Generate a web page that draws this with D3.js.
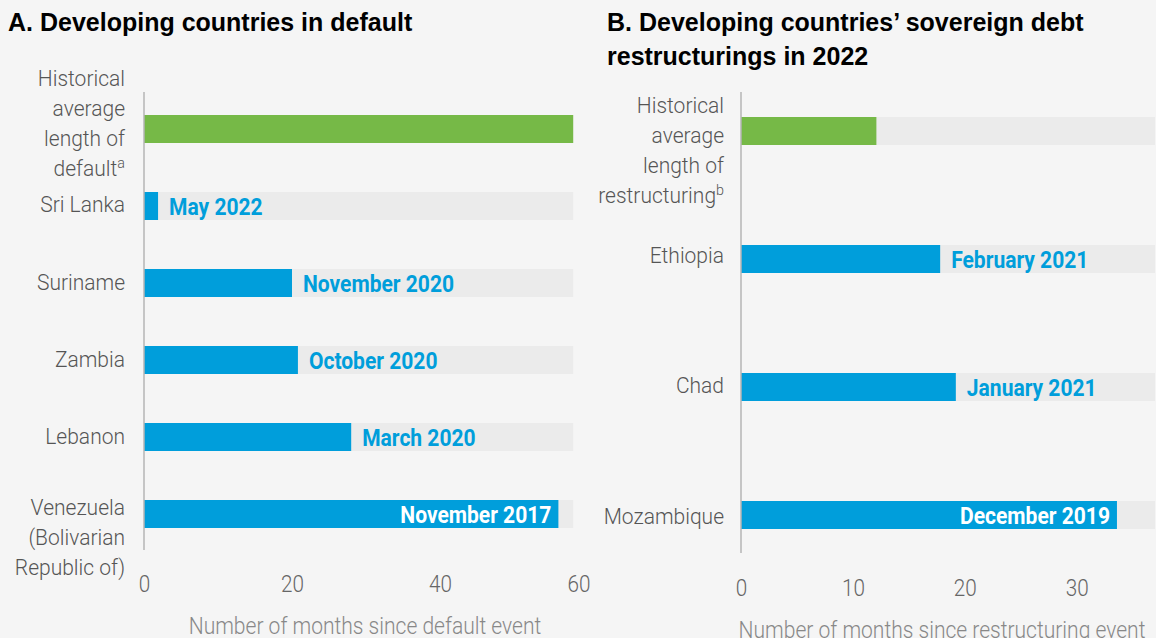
<!DOCTYPE html>
<html>
<head>
<meta charset="utf-8">
<script src="https://cdn.jsdelivr.net/npm/d3@7"></script>
<style>
    body { margin: 0; background: #f5f5f5; }
    svg { display: block; }
</style>
</head>
<body>
<div id="chart"></div>
<script>
// Panel A: countries in default
var defaultLabels = [["Historical", "average", "length of", "default"], ["Sri Lanka"], ["Suriname"], ["Zambia"], ["Lebanon"], ["Venezuela", "(Bolivarian", "Republic of)"]];
var defaultNotes = ["a", "", "", "", "", ""];
var defaultMonths = [58, 1.9, 20, 20.8, 28, 56];
var defaultDates = ["", "May 2022", "November 2020", "October 2020", "March 2020", "November 2017"];
var defaultTicks = [0, 20, 40, 60];
var defaultTrack = 58;

// Panel B: restructurings in 2022
var restructLabels = [["Historical", "average", "length of", "restructuring"], ["Ethiopia"], ["Chad"], ["Mozambique"]];
var restructNotes = ["b", "", "", ""];
var restructMonths = [12.1, 17.8, 19.2, 33.6];
var restructDates = ["", "February 2021", "January 2021", "December 2019"];
var restructTicks = [0, 10, 20, 30];
var restructTrack = 37;

var width = 1156, height = 638;
var blue = "#009edb", green = "#76b947", track = "#ebebeb";
// squeeze Roboto a bit, no condensed face installed
var narrowLight = 0.955, narrowBold = 0.915, narrowTick = 0.9;

var svg = d3.select("#chart")
    .append("svg")
    .attr("width", width)
    .attr("height", height);

svg.append("rect")
    .attr("width", width)
    .attr("height", height)
    .attr("fill", "#f5f5f5");

function drawPanel(cfg) {
    var g = svg.append("g");

    var x = d3.scaleLinear()
        .domain([0, cfg.max])
        .range([cfg.x0, cfg.x1]);

    var y = d3.scalePoint()
        .domain(d3.range(cfg.labels.length))
        .range([cfg.yTop, cfg.yBot]);

    var barH = 28;

    // title
    cfg.title.forEach((t, i) => {
        g.append("text")
            .attr("x", cfg.titleX)
            .attr("y", 31 + i * 34)
            .text(t)
            .style("font-family", "'Liberation Sans', Arial, sans-serif")
            .style("font-weight", "bold")
            .style("font-size", "25px")
            .style("fill", "#000");
    });

    // grey tracks
    g.selectAll("rect.track")
        .data(cfg.months)
        .enter()
        .append("rect")
        .attr("class", "track")
        .attr("x", x(0))
        .attr("y", (d, i) => y(i) - barH / 2)
        .attr("width", x(cfg.track) - x(0))
        .attr("height", barH)
        .attr("fill", track);

    // value bars
    g.selectAll("rect.bar")
        .data(cfg.months)
        .enter()
        .append("rect")
        .attr("class", "bar")
        .attr("x", x(0))
        .attr("y", (d, i) => y(i) - barH / 2)
        .attr("width", d => x(d) - x(0))
        .attr("height", barH)
        .attr("fill", (d, i) => i === 0 ? green : blue);

    // axis line
    g.append("line")
        .attr("x1", x(0)).attr("x2", x(0))
        .attr("y1", cfg.axisTop).attr("y2", cfg.axisBot)
        .attr("stroke", "#b5b5b5")
        .attr("stroke-width", 1.5);

    // category labels
    cfg.labels.forEach((lines, i) => {
        var t = g.append("text")
            .attr("transform", `translate(${cfg.labelX},${y(i) + cfg.labelDy[i]}) scale(${narrowLight},1)`)
            .attr("text-anchor", "end")
            .style("font-family", "Roboto, sans-serif")
            .style("font-weight", 300)
            .style("font-size", "22px")
            .style("fill", "#555");
        lines.forEach((line, j) => {
            t.append("tspan")
                .attr("x", 0)
                .attr("y", j * 30)
                .text(line);
        });
        if (cfg.notes[i]) {
            t.append("tspan")
                .attr("dy", -8)
                .style("font-size", "15px")
                .text(cfg.notes[i]);
        }
    });

    // date labels, white inside the bar when they don't fit after it
    cfg.dates.forEach((d, i) => {
        if (!d) return;
        var lbl = g.append("text")
            .text(d)
            .style("font-family", "Roboto, sans-serif")
            .style("font-weight", "bold")
            .style("font-size", "23px");
        var w = lbl.node().getComputedTextLength() * narrowBold;
        var end = x(cfg.months[i]);
        var inside = end + 11 + w > x(cfg.track);
        lbl.attr("text-anchor", inside ? "end" : "start")
            .attr("transform", `translate(${inside ? end - 7 : end + 11},${y(i) + 9}) scale(${narrowBold},1)`)
            .style("fill", inside ? "#fff" : blue);
    });

    // x axis
    var axis = g.append("g")
        .attr("transform", `translate(0,${cfg.tickY})`)
        .call(d3.axisBottom(x).tickValues(cfg.ticks).tickSize(0).tickPadding(0));
    axis.select(".domain").remove();
    axis.selectAll("text")
        .attr("dy", 0)
        .attr("transform", `scale(${narrowTick},1)`)
        .style("font-family", "Roboto, sans-serif")
        .style("font-weight", 300)
        .style("font-size", "23px")
        .style("fill", "#666");
    if (cfg.lastTickEnd) {
        axis.selectAll("text")
            .filter(d => d === cfg.ticks[cfg.ticks.length - 1])
            .attr("text-anchor", "end")
            .attr("x", 2 / narrowTick);
    }

    g.append("text")
        .attr("transform", `translate(${cfg.titleAxisX},${cfg.tickY + 42}) scale(${narrowBold},1)`)
        .attr("text-anchor", "middle")
        .text(cfg.axisTitle)
        .style("font-family", "Roboto, sans-serif")
        .style("font-weight", 300)
        .style("font-size", "23px")
        .style("fill", "#888");
}

drawPanel({
    title: ["A. Developing countries in default"],
    titleX: 8,
    labels: defaultLabels, notes: defaultNotes, months: defaultMonths, dates: defaultDates,
    ticks: defaultTicks, track: defaultTrack, max: 60,
    x0: 144, x1: 588, yTop: 129, yBot: 514,
    axisTop: 92, axisBot: 550, labelX: 125,
    labelDy: [-43, 6, 7, 7, 7, 1],
    tickY: 592, lastTickEnd: true, titleAxisX: 365,
    axisTitle: "Number of months since default event"
});

drawPanel({
    title: ["B. Developing countries\u2019 sovereign debt", "restructurings in 2022"],
    titleX: 607,
    labels: restructLabels, notes: restructNotes, months: restructMonths, dates: restructDates,
    ticks: restructTicks, track: restructTrack, max: 37,
    x0: 741, x1: 1155, yTop: 131, yBot: 515,
    axisTop: 92, axisBot: 553, labelX: 724,
    labelDy: [-18, 4, 6, 9],
    tickY: 596, lastTickEnd: false, titleAxisX: 942,
    axisTitle: "Number of months since restructuring event"
});
</script>
</body>
</html>
